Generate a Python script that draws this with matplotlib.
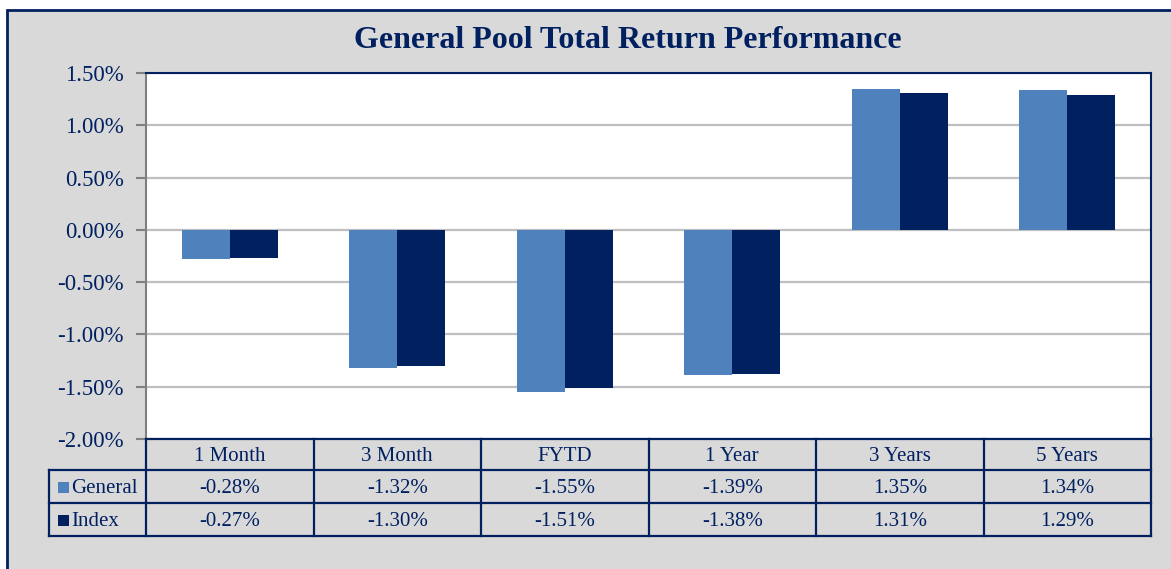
import matplotlib
matplotlib.use("Agg")
import matplotlib.pyplot as plt
from matplotlib.patches import Rectangle
import numpy as np

categories = ["1 Month", "3 Month", "FYTD", "1 Year", "3 Years", "5 Years"]
series_names = ["General", "Index"]
general = [-0.28, -1.32, -1.55, -1.39, 1.35, 1.34]
index = [-0.27, -1.30, -1.51, -1.38, 1.31, 1.29]
yticks = [1.5, 1.0, 0.5, 0.0, -0.5, -1.0, -1.5, -2.0]

NAVY = "#002060"
BLUE = "#4F81BD"
BG = "#D9D9D9"
SERIF = ["Liberation Serif", "DejaVu Serif"]

W, H = 1171, 569
fig = plt.figure(figsize=(W / 100, H / 100), dpi=100)
fig.patch.set_facecolor("white")


def fx(px):
    return px / W


def fy(py):
    return 1 - py / H


# grey panel with navy frame (extends past right/bottom edge)
fig.patches.append(Rectangle((fx(7), fy(1000)), fx(1300), fy(10) - fy(1000),
                             transform=fig.transFigure, facecolor=BG,
                             edgecolor=NAVY, lw=2, zorder=-10))

fig.text(fx(628), fy(41), "General Pool Total Return Performance", ha="center",
         va="center", fontsize=23, fontweight="bold", color=NAVY, family=SERIF)

# plot area
L, R, T, B = 146, 1151, 73, 439
ax = fig.add_axes([fx(L), fy(B), fx(R) - fx(L), fy(T) - fy(B)])
ax.set_facecolor("white")
x = np.arange(len(categories))
bw = 0.287
ax.bar(x - bw / 2, general, width=bw, color=BLUE, zorder=3)
ax.bar(x + bw / 2, index, width=bw, color=NAVY, zorder=3)
ax.set_xlim(-0.5, len(categories) - 0.5)
ax.set_ylim(-2.0, 1.5)
ax.set_yticks(yticks)
ax.set_yticklabels([f"{v:.2f}%" for v in yticks], fontsize=16.5, color=NAVY,
                   family=SERIF)
ax.set_xticks([])
ax.yaxis.grid(True, color="#BFBFBF", lw=1.6, zorder=1)
ax.tick_params(axis="y", length=7, width=1.5, color="#808080", pad=9)
ax.spines["left"].set_color("#808080")
ax.spines["left"].set_linewidth(1.5)
for s in ("top", "right"):
    ax.spines[s].set_color(NAVY)
    ax.spines[s].set_linewidth(1.5)
ax.spines["bottom"].set_visible(False)

# data table
tab = fig.add_axes([0, 0, 1, 1], facecolor="none")
tab.set_xlim(0, W)
tab.set_ylim(H, 0)
tab.axis("off")
TL = 49
rows = [439, 470, 503, 536]
colw = (R - L) / len(categories)
kw = dict(color=NAVY, lw=1.6, solid_capstyle="projecting")
tab.plot([L, R], [rows[0], rows[0]], **kw)
for r in rows[1:]:
    tab.plot([TL, R], [r, r], **kw)
tab.plot([TL, TL], [rows[1], rows[3]], **kw)
for i in range(len(categories) + 1):
    tab.plot([L + i * colw, L + i * colw], [rows[0], rows[3]], **kw)

for i, c in enumerate(categories):
    cx = L + (i + 0.5) * colw
    tab.text(cx, (rows[0] + rows[1]) / 2 + 2, c, ha="center", va="center",
             fontsize=15, color=NAVY, family=SERIF)
    for j, vals in enumerate([general, index]):
        tab.text(cx, (rows[j + 1] + rows[j + 2]) / 2 + 2, f"{vals[i]:.2f}%",
                 ha="center", va="center", fontsize=15, color=NAVY, family=SERIF)

for j, (name, col) in enumerate(zip(series_names, [BLUE, NAVY])):
    cy = (rows[j + 1] + rows[j + 2]) / 2
    tab.add_patch(Rectangle((58, cy - 5), 11, 11, facecolor=col, edgecolor="none"))
    tab.text(71, cy + 2, name, ha="left", va="center", fontsize=15, color=NAVY,
             family=SERIF)

fig.savefig("out.png", dpi=100, facecolor=fig.get_facecolor())
